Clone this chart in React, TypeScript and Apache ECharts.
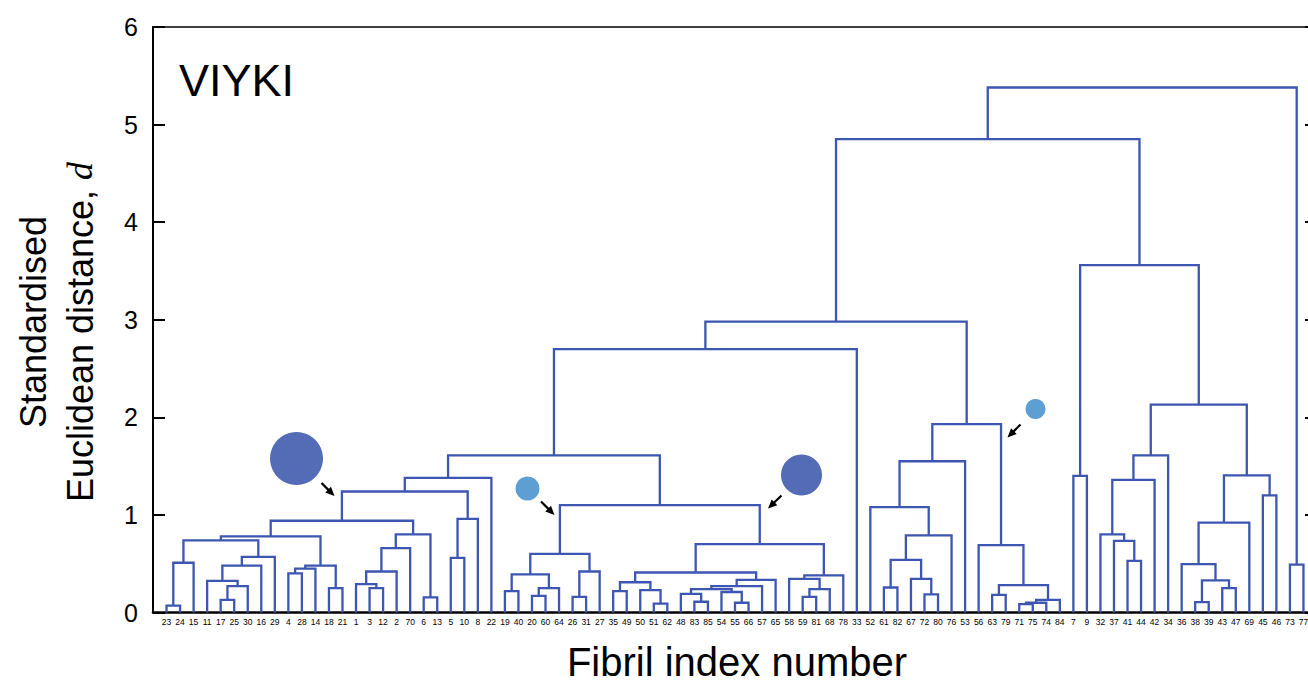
import React, { useEffect, useRef } from "react";
import * as echarts from "echarts";

// Leaf order along the x axis (fibril index numbers)
const leafLabels: number[] = [
  23, 24, 15, 11, 17, 25, 30, 16, 29, 4, 28, 14, 18, 21, 1, 3, 12, 2, 70, 6, 13, 5, 10, 8, 22,
  19, 40, 20, 60, 64, 26, 31, 27, 35, 49, 50, 51, 62, 48, 83, 85, 54, 55, 66, 57, 65, 58, 59, 81,
  68, 78, 33, 52, 61, 82, 67, 72, 80, 76, 53, 56, 63, 79, 71, 75, 74, 84, 7, 9, 32, 37, 41, 44,
  42, 34, 36, 38, 39, 43, 47, 69, 45, 46, 73, 77,
];

// Linkage: [left, right, distance]; numbers are fibril labels, "cN" refers to merge N
const linkage: [number | string, number | string, number][] = [
  [23, 24, 0.07], // c0
  ["c0", 15, 0.51], // c1
  [17, 25, 0.13], // c2
  ["c2", 30, 0.27], // c3
  [11, "c3", 0.325], // c4
  ["c4", 16, 0.48], // c5
  ["c5", 29, 0.57], // c6
  ["c1", "c6", 0.74], // c7
  [4, 28, 0.4], // c8
  ["c8", 14, 0.45], // c9
  [18, 21, 0.25], // c10
  ["c9", "c10", 0.48], // c11
  ["c7", "c11", 0.78], // c12
  [3, 12, 0.25], // c13
  [1, "c13", 0.29], // c14
  ["c14", 2, 0.42], // c15
  ["c15", 70, 0.66], // c16
  [6, 13, 0.155], // c17
  ["c16", "c17", 0.8], // c18
  ["c12", "c18", 0.94], // c19
  [5, 10, 0.56], // c20
  ["c20", 8, 0.96], // c21
  ["c19", "c21", 1.24], // c22
  ["c22", 22, 1.38], // c23
  [19, 40, 0.22], // c24
  [20, 60, 0.17], // c25
  ["c25", 64, 0.25], // c26
  ["c24", "c26", 0.39], // c27
  [26, 31, 0.16], // c28
  ["c28", 27, 0.42], // c29
  ["c27", "c29", 0.6], // c30
  [35, 49, 0.22], // c31
  [51, 62, 0.09], // c32
  [50, "c32", 0.23], // c33
  ["c31", "c33", 0.31], // c34
  [83, 85, 0.11], // c35
  [48, "c35", 0.19], // c36
  [55, 66, 0.1], // c37
  [54, "c37", 0.21], // c38
  ["c36", "c38", 0.24], // c39
  ["c39", 57, 0.27], // c40
  ["c40", 65, 0.335], // c41
  ["c34", "c41", 0.41], // c42
  [59, 81, 0.16], // c43
  ["c43", 68, 0.24], // c44
  [58, "c44", 0.345], // c45
  ["c45", 78, 0.38], // c46
  ["c42", "c46", 0.7], // c47
  ["c30", "c47", 1.1], // c48
  ["c23", "c48", 1.61], // c49
  ["c49", 33, 2.7], // c50
  [61, 82, 0.256], // c51
  [72, 80, 0.185], // c52
  [67, "c52", 0.345], // c53
  ["c51", "c53", 0.54], // c54
  ["c54", 76, 0.79], // c55
  [52, "c55", 1.08], // c56
  ["c56", 53, 1.55], // c57
  [63, 79, 0.18], // c58
  [71, 75, 0.085], // c59
  ["c59", 74, 0.1], // c60
  ["c60", 84, 0.13], // c61
  ["c58", "c61", 0.28], // c62
  [56, "c62", 0.69], // c63
  ["c57", "c63", 1.93], // c64
  ["c50", "c64", 2.98], // c65
  [7, 9, 1.4], // c66
  [41, 44, 0.53], // c67
  [37, "c67", 0.735], // c68
  [32, "c68", 0.8], // c69
  ["c69", 42, 1.36], // c70
  ["c70", 34, 1.61], // c71
  [38, 39, 0.106], // c72
  [43, 47, 0.25], // c73
  ["c72", "c73", 0.33], // c74
  [36, "c74", 0.495], // c75
  ["c75", 69, 0.92], // c76
  [45, 46, 1.2], // c77
  ["c76", "c77", 1.405], // c78
  ["c71", "c78", 2.13], // c79
  ["c66", "c79", 3.56], // c80
  ["c65", "c80", 4.85], // c81
  [73, 77, 0.49], // c82
  ["c81", "c82", 5.38], // c83
];

const yTicks = [0, 1, 2, 3, 4, 5, 6];

const LINE = "#3d56b2";
const DARK = "#536cb5";
const LIGHT = "#5e9fd3";
const FONT = "'Liberation Sans', Arial, Helvetica, sans-serif";

function buildSegments(): number[][] {
  const pos = new Map<number, number>();
  leafLabels.forEach((l, i) => pos.set(l, i + 1));
  const nodes: { x: number; h: number }[] = [];
  const get = (r: number | string) =>
    typeof r === "number" ? { x: pos.get(r) as number, h: 0 } : nodes[parseInt(r.slice(1), 10)];
  return linkage.map(([a, b, h]) => {
    const A = get(a);
    const B = get(b);
    nodes.push({ x: (A.x + B.x) / 2, h });
    return [A.x, B.x, A.h, B.h, h];
  });
}

function arrowPts(x1: number, y1: number, x2: number, y2: number) {
  const dx = x2 - x1, dy = y2 - y1;
  const L = Math.hypot(dx, dy);
  const ux = dx / L, uy = dy / L, nx = -uy, ny = ux;
  const hl = 9, hw = 4, sw = 1.1;
  const bx = x2 - ux * hl, by = y2 - uy * hl;
  return [
    [x1 + nx * sw, y1 + ny * sw],
    [bx + nx * sw, by + ny * sw],
    [bx + nx * hw, by + ny * hw],
    [x2, y2],
    [bx - nx * hw, by - ny * hw],
    [bx - nx * sw, by - ny * sw],
    [x1 - nx * sw, y1 - ny * sw],
  ];
}

export default function App() {
  const ref = useRef<HTMLDivElement>(null);
  useEffect(() => {
    if (!ref.current) return;
    const chart = echarts.init(ref.current, null, { renderer: "svg" });
    const segs = buildSegments();
    const arrows = [
      [321.5, 483, 334.5, 496],
      [541, 501.5, 554.5, 515],
      [781.5, 495.5, 768, 508.5],
      [1020.5, 424.5, 1007.5, 437.5],
    ];
    chart.setOption({
      animation: false,
      grid: { left: 153, right: 13, top: 27, bottom: 73.5, show: false },
      xAxis: [
        {
          type: "value",
          min: 0,
          max: leafLabels.length + 1,
          interval: 1,
          axisLine: { show: true, lineStyle: { color: "#000", width: 2.5 } },
          axisTick: { show: false },
          splitLine: { show: false },
          axisLabel: {
            formatter: (v: number) =>
              v >= 1 && v <= leafLabels.length ? String(leafLabels[v - 1]) : "",
            fontSize: 8.5,
            color: "#000",
            margin: 5,
            fontFamily: FONT,
          },
        },
        {
          type: "value",
          position: "top",
          min: 0,
          max: leafLabels.length + 1,
          axisLine: { show: true, onZero: false, lineStyle: { color: "#000", width: 1.5 } },
          axisTick: { show: false },
          axisLabel: { show: false },
          splitLine: { show: false },
        },
      ],
      yAxis: [
        {
          type: "value",
          min: yTicks[0],
          max: yTicks[yTicks.length - 1],
          interval: 1,
          axisLine: { show: true, lineStyle: { color: "#000", width: 2 } },
          axisTick: { show: true, inside: true, length: 12, lineStyle: { color: "#000", width: 2 } },
          axisLabel: { fontSize: 25, color: "#000", margin: 15, fontFamily: FONT },
          splitLine: { show: false },
        },
        {
          type: "value",
          position: "right",
          min: yTicks[0],
          max: yTicks[yTicks.length - 1],
          interval: 1,
          axisLine: { show: true, onZero: false, lineStyle: { color: "#000", width: 2 } },
          axisTick: { show: true, inside: true, length: 12, lineStyle: { color: "#000", width: 2 } },
          axisLabel: { show: false },
          splitLine: { show: false },
        },
      ],
      series: [
        {
          type: "custom",
          xAxisIndex: 0,
          yAxisIndex: 0,
          data: segs,
          encode: { x: [0, 1], y: [2, 3, 4] },
          clip: false,
          renderItem: (_p: any, api: any) => {
            const xa = api.value(0), xb = api.value(1);
            const ha = api.value(2), hb = api.value(3), h = api.value(4);
            return {
              type: "polyline",
              shape: {
                points: [
                  api.coord([xa, ha]),
                  api.coord([xa, h]),
                  api.coord([xb, h]),
                  api.coord([xb, hb]),
                ],
              },
              style: { stroke: LINE, lineWidth: 2.3, fill: null },
            };
          },
        },
      ],
      graphic: [
        {
          type: "text",
          x: 179,
          y: 80,
          style: { text: "VIYKI", fontSize: 45, fontFamily: FONT, fill: "#000", textVerticalAlign: "middle" },
        },
        {
          type: "text",
          x: 33,
          y: 322,
          rotation: Math.PI / 2,
          style: {
            text: "Standardised",
            fontSize: 36,
            fontFamily: FONT,
            fill: "#000",
            textAlign: "center",
            textVerticalAlign: "middle",
          },
        },
        {
          type: "text",
          x: 80,
          y: 332,
          rotation: Math.PI / 2,
          style: {
            text: "Euclidean distance, {i|d}",
            fontSize: 36,
            fontFamily: FONT,
            fill: "#000",
            textAlign: "center",
            textVerticalAlign: "middle",
            rich: {
              i: { fontSize: 36, fontStyle: "italic", fontFamily: "'Liberation Serif', 'DejaVu Serif', serif", fill: "#000" },
            },
          },
        },
        {
          type: "text",
          x: 737,
          y: 662,
          style: {
            text: "Fibril index number",
            fontSize: 40,
            fontFamily: FONT,
            fill: "#000",
            textAlign: "center",
            textVerticalAlign: "middle",
          },
        },
        { type: "circle", shape: { cx: 296.5, cy: 458.5, r: 26.5 }, style: { fill: DARK } },
        { type: "circle", shape: { cx: 527.5, cy: 488.5, r: 12 }, style: { fill: LIGHT } },
        { type: "circle", shape: { cx: 801.5, cy: 475, r: 20.5 }, style: { fill: DARK } },
        { type: "circle", shape: { cx: 1035.5, cy: 409, r: 10 }, style: { fill: LIGHT } },
        ...arrows.map((a) => ({
          type: "polygon",
          shape: { points: arrowPts(a[0], a[1], a[2], a[3]) },
          style: { fill: "#000" },
        })),
      ],
    });
    return () => chart.dispose();
  }, []);
  return (
    <div style={{ position: "fixed", left: 0, top: 0, width: 1308, height: 686, overflow: "hidden", background: "#fff" }}>
      <div ref={ref} style={{ width: 1330, height: 686 }} />
    </div>
  );
}
